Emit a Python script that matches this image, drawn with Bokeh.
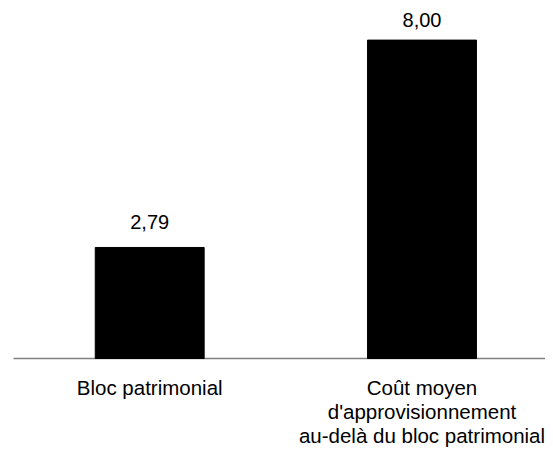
from bokeh.plotting import figure
from bokeh.models import Range1d, ColumnDataSource
from bokeh.embed import file_html
from bokeh.resources import INLINE
from bokeh.core.properties import value

categories = ["Bloc patrimonial",
              "Coût moyen\nd'approvisionnement\nau-delà du bloc patrimonial"]
values = [2.79, 8.00]
value_labels = [f"{v:.2f}".replace(".", ",") for v in values]
positions = list(range(len(categories)))

# styling (pixel offsets)
label_offsets = [-25, -20]
first_line_offset = 29
line_step = 24

W, H = 545, 448
px_per_x = 272.3
px_per_y = 39.8
base_px = 358.0   # baseline position from top of canvas
first_center_px = 149.2
x0 = positions[0] - first_center_px / px_per_x

src = ColumnDataSource(dict(x=positions, top=values, label=value_labels,
                            off=label_offsets))

# category label lines
lx, ly, lt, lo = [], [], [], []
for pos, cat in zip(positions, categories):
    for i, line in enumerate(cat.split("\n")):
        lx.append(pos)
        ly.append(0)
        lt.append(line)
        lo.append(first_line_offset + line_step * i)
cat_src = ColumnDataSource(dict(x=lx, y=ly, text=lt, off=lo))

x_end = x0 + W / px_per_x
p = figure(width=W, height=H, output_backend="svg", toolbar_location=None,
           x_range=Range1d(x0, x_end),
           y_range=Range1d(-(H - base_px) / px_per_y, base_px / px_per_y),
           min_border=0)
p.axis.visible = False
p.grid.visible = False
p.outline_line_color = None

# baseline (category axis line)
p.segment(x0=[positions[0] - 0.5], y0=[0], x1=[x_end], y1=[0],
          line_color="#808080", line_width=1.5)

p.vbar(x="x", top="top", width=0.4, bottom=0, source=src,
       fill_color="black", line_color="black")

p.text(x="x", y="top", text="label", source=src, text_align="center",
       text_baseline="alphabetic", y_offset="off", text_font_size="20px",
       text_font=value("Liberation Sans"), text_color="black")

p.text(x="x", y="y", text="text", source=cat_src, text_align="center",
       text_baseline="alphabetic", y_offset="off", text_font_size="20.5px",
       text_font=value("Liberation Sans"), text_color="black")

open("out.html", "w").write(file_html(p, INLINE))
